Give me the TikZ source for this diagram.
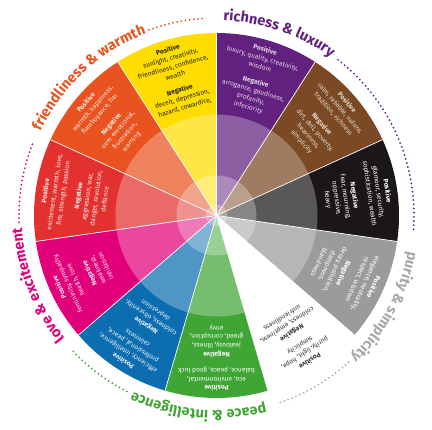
\documentclass[tikz,border=0pt]{standalone}
\usepackage{fontspec}
\setmainfont{Fira Sans}
\usetikzlibrary{decorations.text}
\definecolor{cyel}{HTML}{FFDD00}
\definecolor{cpur}{HTML}{62207F}
\definecolor{cbro}{HTML}{7B4A25}
\definecolor{cbla}{HTML}{1B1718}
\definecolor{cgra}{HTML}{9C9B9B}
\definecolor{cwhi}{HTML}{FFFFFF}
\definecolor{cgre}{HTML}{3FA535}
\definecolor{cblu}{HTML}{0C6EB1}
\definecolor{cmag}{HTML}{E2007A}
\definecolor{cred}{HTML}{E3312F}
\definecolor{cora}{HTML}{E8531F}
\definecolor{lgra}{HTML}{A8A8A8}
\newcommand{\labfont}{\fontsize{14.5}{14.5}\selectfont\bfseries}
\tikzset{
  blk/.style={font=\fontsize{6.6}{8.9}\selectfont, align=center, anchor=north, inner sep=0pt},
  dots/.style={line width=2pt, line cap=round, dash pattern=on 0pt off 4.2pt},
  sep/.style={white, line width=0.7pt},
  tint/.style={white, opacity=0.28}
}
\newcommand{\PN}[2]{\textbf{Positive}\\#1\\[6.5pt]\textbf{Negative}\\#2}
\begin{document}
\begin{tikzpicture}[x=1pt,y=1pt]
\useasboundingbox (0,0) rectangle (432,430);
\coordinate (C) at (216.5,214.5);
% sectors
\foreach \i/\col in {0/cpur,1/cbro,2/cbla,3/cgra,4/cwhi,5/cgre,6/cblu,7/cmag,8/cred,9/cora,10/cyel} {
  \pgfmathsetmacro\a{90-\i*360/11}
  \pgfmathsetmacro\b{90-(\i+1)*360/11}
  \fill[\col] (C) -- ([shift={(\a:182.5)}]C) arc[start angle=\a, end angle=\b, radius=182.5pt] -- cycle;
}
\fill[tint] (C) circle[radius=101pt];
\fill[tint] (C) circle[radius=40pt];
\fill[tint] (C) circle[radius=11pt];
\foreach \i in {0,...,10} {
  \pgfmathsetmacro\a{90-\i*360/11}
  \draw[sep] (C) -- ([shift={(\a:182.5)}]C);
}
% texts
\node[blk, text=white!82!cpur, rotate=-16.36] (t0) at ([shift={(73.64:176)}]C)
  {\PN{luxury, quality, creativity,\\wisdom}{arrogance, gaudiness,\\profanity,\\inferiority}};
\node[blk, text=white!80!cbro, rotate=-49.09] (t1) at ([shift={(40.91:176)}]C)
  {\PN{calm, reliable, nature,\\tradition, richness}{dirt, dull, poverty,\\heaviness,\\simplicity}};
\node[blk, text=white, rotate=-81.82] (t2) at ([shift={(8.18:176)}]C)
  {\PN{glamour, security,\\sophistication, wealth}{fear, mourning,\\oppressive,\\heavy}};
\node[blk, text=white, rotate=-114.55] (t3) at ([shift={(-24.55:176)}]C)
  {\PN{elegance, neutrality,\\respect, wisdom}{decay, pollution,\\dampness,\\blandness}};
\node[blk, text=black!80, rotate=-147.27] (t4) at ([shift={(-57.27:176)}]C)
  {\PN{purity, light, hope,\\simplicity}{coldness, emptiness,\\unfriendliness}};
\node[blk, text=white, rotate=-180] (t5) at ([shift={(-90:176)}]C)
  {\PN{eco, environmental,\\balance, peace, good luck}{jealousy, illness,\\greed, corruption,\\envy}};
\node[blk, text=white!90!cblu, rotate=147.27] (t6) at ([shift={(-122.73:176)}]C)
  {\PN{efficiency, intelligence,\\professional, peace,\\calmness}{coldness, obscenity,\\depression}};
\node[blk, text=white!90!cmag, rotate=114.55] (t7) at ([shift={(-155.45:176)}]C)
  {\PN{femininity, sympathy,\\health, love}{weakness,\\inhibition}};
\node[blk, text=white!90!cred, rotate=81.82] (t8) at ([shift={(171.82:176)}]C)
  {\PN{excitement, warmth, love,\\fire, strength, passion}{aggression, war,\\danger, revolution,\\defiance}};
\node[blk, text=white!85!cora, rotate=49.09] (t9) at ([shift={(139.09:176)}]C)
  {\PN{warmth, happiness,\\flamboyance, fun}{over emotional,\\frustration,\\warning}};
\node[blk, text=black!85!cyel, rotate=16.36] (t10) at ([shift={(106.36:176)}]C)
  {\PN{sunlight, creativity,\\friendliness, confidence,\\wealth}{deceit, depression,\\hazard, cowardice,}};
% labels
\path[decorate, decoration={text along path, text color=cora, text={|\labfont|friendliness {\&} warmth}}]
  ([shift={(154.5:195)}]C) arc[start angle=154.5, end angle=90, radius=195pt];
\draw[dots, cora] ([shift={(110:197.5)}]C) arc[start angle=110, end angle=93, radius=197.5pt];
\path[decorate, decoration={text along path, text color=cpur, text={|\labfont|richness {\&} luxury}}]
  ([shift={(88:195)}]C) arc[start angle=88, end angle=30, radius=195pt];
\draw[dots, cpur] ([shift={(52:197.5)}]C) arc[start angle=52, end angle=-5, radius=197.5pt];
\path[decorate, decoration={text along path, text color=lgra, text={|\labfont|purity {\&} simplicity}}]
  ([shift={(-10.6:195)}]C) arc[start angle=-10.6, end angle=-70, radius=195pt];
\draw[dots, lgra] ([shift={(-48:197.5)}]C) arc[start angle=-48, end angle=-72, radius=197.5pt];
\path[decorate, decoration={text along path, text color=cgre, text={|\labfont|peace {\&} intelligence}}]
  ([shift={(-75.5:195)}]C) arc[start angle=-75.5, end angle=-140, radius=195pt];
\draw[dots, cgre] ([shift={(-117:197.5)}]C) arc[start angle=-117, end angle=-137.6, radius=197.5pt];
\path[decorate, decoration={text along path, text color=cmag, text={|\labfont|love {\&} excitement}}]
  ([shift={(219:195)}]C) arc[start angle=219, end angle=150, radius=195pt];
\draw[dots, cmag] ([shift={(182:197.5)}]C) arc[start angle=182, end angle=158, radius=197.5pt];
\end{tikzpicture}
\end{document}
